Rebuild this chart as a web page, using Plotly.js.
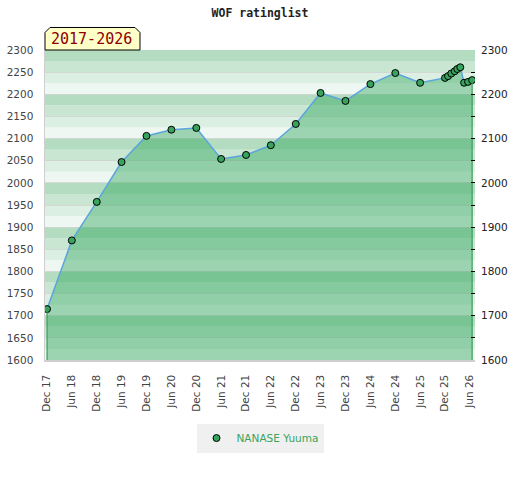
<!DOCTYPE html>
<html>
<head>
<meta charset="utf-8">
<script src="https://cdn.plot.ly/plotly-3.0.1.min.js"></script>
<style>
  html, body { margin: 0; padding: 0; background: #fff; }
  #chart { width: 520px; height: 480px; }
</style>
</head>
<body>
<div id="chart"></div>
<script>
// ---- data ----
const playerName = "NANASE Yuuma";
const chartTitle = "WOF ratinglist";
const periodLabel = "2017-2026";

const dates = [
  "2017-12-01", "2018-06-01", "2018-12-01", "2019-06-01", "2019-12-01",
  "2020-06-01", "2020-12-01", "2021-06-01", "2021-12-01", "2022-06-01",
  "2022-12-01", "2023-06-01", "2023-12-01", "2024-06-01", "2024-12-01",
  "2025-06-01", "2025-12-01", "2025-12-23", "2026-01-16", "2026-02-10",
  "2026-03-01", "2026-03-23", "2026-04-20", "2026-05-19", "2026-06-18"
];
const ratings = [
  1715, 1870, 1957, 2047, 2106,
  2120, 2124, 2054, 2063, 2085,
  2133, 2203, 2185, 2223, 2248,
  2226, 2237, 2241, 2247, 2252,
  2257, 2261, 2226, 2228, 2232
];

const xTickVals = [
  "2017-12-01", "2018-06-01", "2018-12-01", "2019-06-01", "2019-12-01",
  "2020-06-01", "2020-12-01", "2021-06-01", "2021-12-01", "2022-06-01",
  "2022-12-01", "2023-06-01", "2023-12-01", "2024-06-01", "2024-12-01",
  "2025-06-01", "2025-12-01", "2026-06-01"
];
const xTickText = [
  "Dec 17", "Jun 18", "Dec 18", "Jun 19", "Dec 19",
  "Jun 20", "Dec 20", "Jun 21", "Dec 21", "Jun 22",
  "Dec 22", "Jun 23", "Dec 23", "Jun 24", "Dec 24",
  "Jun 25", "Dec 25", "Jun 26"
];
const xRange = ["2017-11-16", "2026-07-09"];
const yMin = 1600;
const yMax = 2300;

// ---- styles ----
const bandColors = ["#eff7f2", "#dcefe3", "#c8e6d2", "#b4dcc0"]; // lightest (bottom of each 100) -> darkest (top)
const fillColor = "rgba(40,163,85,0.42)";
const edgeColor = "#3a9d5a";
const lineColor = "#5aa5dc";
const markerColor = "#38a35c";

const shapes = [];
for (let v = yMin; v < yMax; v += 25) {
  const q = Math.round(((v - yMin) % 100) / 25);
  shapes.push({
    type: "rect", xref: "paper", yref: "y", layer: "below",
    x0: 0, x1: 1, y0: v, y1: v + 25,
    fillcolor: bandColors[q], line: { width: 0 }
  });
}
// badge
shapes.push({
  type: "path", xref: "paper", yref: "paper", layer: "above",
  path: "M 0,1.0 L 0,1.0565 L 0.0116,1.0726 L 0.2093,1.0726 L 0.2209,1.0565 L 0.2209,1.0 Z",
  fillcolor: "#ffffc8", line: { color: "#000", width: 1 }
});

const last = dates.length - 1;

const traces = [
  {
    x: dates, y: ratings, type: "scatter", mode: "none",
    fill: "tozeroy", fillcolor: fillColor,
    showlegend: false, hoverinfo: "skip"
  },
  {
    x: [dates[0], dates[0]], y: [ratings[0], yMin], yaxis: "y2",
    type: "scatter", mode: "lines", line: { color: edgeColor, width: 1.2 },
    showlegend: false, hoverinfo: "skip"
  },
  {
    x: [dates[last], dates[last]], y: [ratings[last], yMin], yaxis: "y2",
    type: "scatter", mode: "lines", line: { color: edgeColor, width: 1.2 },
    showlegend: false, hoverinfo: "skip"
  },
  {
    x: dates, y: ratings, type: "scatter", mode: "lines",
    line: { color: lineColor, width: 1.5 },
    showlegend: false, hoverinfo: "skip"
  },
  {
    x: dates, y: ratings, type: "scatter", mode: "markers",
    name: playerName,
    marker: { color: markerColor, size: 7, line: { color: "#000", width: 1 } }
  }
];

const tickFont = { family: "DejaVu Sans", size: 10.5, color: "#444" };

const layout = {
  width: 520, height: 480,
  margin: { l: 45, r: 45, t: 50, b: 120 },
  paper_bgcolor: "#ffffff",
  plot_bgcolor: "#ffffff",
  title: {
    text: chartTitle,
    x: 0.5, xref: "container", xanchor: "center",
    y: 0.973, yref: "container", yanchor: "middle",
    font: { family: "DejaVu Sans Mono", size: 11.5, color: "#222", weight: "bold" }
  },
  xaxis: {
    type: "date", range: xRange,
    tickmode: "array", tickvals: xTickVals, ticktext: xTickText,
    tickangle: -90, ticks: "", ticklabelstandoff: 9,
    tickfont: tickFont,
    showgrid: false, zeroline: false,
    showline: true, linecolor: "#cfcfcf", linewidth: 1.5
  },
  yaxis: {
    range: [yMin, yMax], dtick: 50, tick0: yMin,
    ticks: "", ticklabelstandoff: 8,
    tickfont: tickFont,
    showgrid: true, gridcolor: "rgba(205,205,205,0.7)", gridwidth: 1,
    zeroline: false,
    showline: true, linecolor: "#cfcfcf", linewidth: 1.5
  },
  yaxis2: {
    overlaying: "y", side: "right",
    range: [yMin, yMax], dtick: 100, tick0: yMin,
    ticks: "inside", ticklen: 4, tickcolor: "#000", tickwidth: 1,
    minor: { dtick: 50, ticks: "inside", ticklen: 4, tickcolor: "#000", tickwidth: 1, showgrid: false },
    ticklabelstandoff: 5,
    tickfont: { family: "DejaVu Sans", size: 10.5, color: "#222" },
    showgrid: false, zeroline: false, showline: false
  },
  shapes: shapes,
  annotations: [
    {
      xref: "paper", yref: "paper", x: 0.109, y: 1.0355,
      xanchor: "center", yanchor: "middle", showarrow: false,
      text: periodLabel,
      font: { family: "DejaVu Sans Mono", size: 15, color: "#8b0000" }
    }
  ],
  showlegend: true,
  legend: {
    orientation: "h", x: 0.5, xanchor: "center",
    y: -0.205, yanchor: "top",
    itemwidth: 30,
    bgcolor: "#f0f0f0",
    font: { family: "DejaVu Sans", size: 10.5, color: "#3aa35c" }
  }
};

Plotly.newPlot("chart", traces, layout, { staticPlot: true, displayModeBar: false });
</script>
</body>
</html>
